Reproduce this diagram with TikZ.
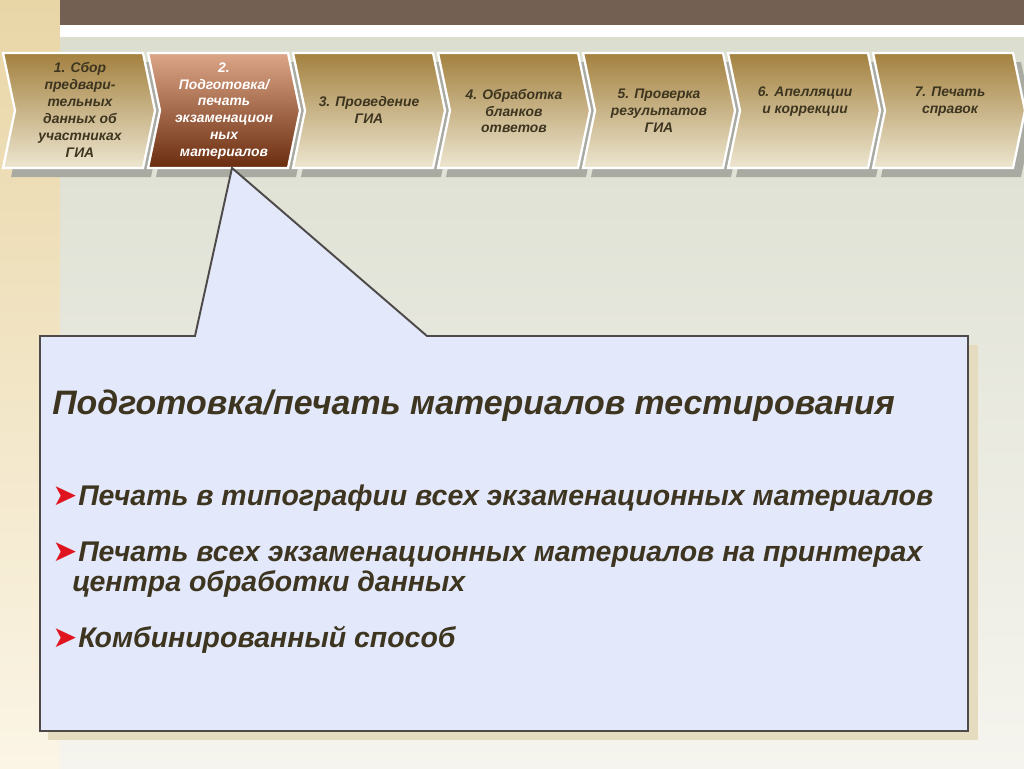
\documentclass[tikz,border=0pt]{standalone}
\usepackage{fontspec}
\setmainfont{Liberation Sans}
\newfontfamily\symfont{DejaVu Sans}
\usetikzlibrary{positioning}

\definecolor{barbrown}{HTML}{745F53}
\definecolor{stripe}{HTML}{E9D6A7}
\definecolor{stripelow}{HTML}{FBF5E6}
\definecolor{bgtop}{HTML}{DCDED0}
\definecolor{bglow}{HTML}{F5F4EE}
\definecolor{chevtop}{HTML}{A3813F}
\definecolor{chevmid}{HTML}{E4D9BA}
\definecolor{chevbot}{HTML}{EDE6D0}
\definecolor{acttop}{HTML}{DDA688}
\definecolor{actmid}{HTML}{A85E38}
\definecolor{actbot}{HTML}{6A2C0E}
\definecolor{chevshadow}{HTML}{A9AAA2}
\definecolor{calloutfill}{HTML}{E3E8FA}
\definecolor{calloutline}{HTML}{4E4A4A}
\definecolor{calloutshadow}{HTML}{E5DCC0}
\definecolor{darktext}{HTML}{3D3520}
\definecolor{bulred}{HTML}{E0141E}

\newcommand{\bul}{{\symfont\fontsize{17}{17}\selectfont\color{bulred}➤}\kern0.5pt}

\begin{document}
\begin{tikzpicture}[x=0.02cm, y=-0.02cm,
    chev/.style={draw=white, line width=1.3pt, top color=chevtop, middle color=chevmid, bottom color=chevbot},
    chevact/.style={draw=white, line width=1.3pt, top color=acttop, middle color=actmid, bottom color=actbot},
    chevtext/.style={align=center, text=darktext, font=\fontsize{7.9}{9.6}\selectfont\bfseries\itshape},
    bigtext/.style={anchor=base west, text=darktext, font=\fontsize{16.2}{19}\selectfont\bfseries\itshape, inner sep=0pt}]

    \useasboundingbox (0,0) rectangle (1024,768);

    % background
    \fill[bottom color=bglow, top color=bgtop] (60,37) rectangle (1024,768);
    \fill[top color=stripe, bottom color=stripelow] (0,0) rectangle (60,768);
    \fill[barbrown] (60,0) rectangle (1024,25);
    \fill[white] (60,25) rectangle (1024,37);

    % process chevrons
    \foreach \i in {1,...,7}{
        \pgfmathsetmacro{\L}{3+145*(\i-1)}
        \fill[chevshadow] (\L+8,62) -- ++(140,0) -- ++(12,57.5) -- ++(-12,57.5) -- ++(-140,0) -- ++(12,-57.5) -- cycle;
    }
    \foreach \i in {1,3,4,5,6,7}{
        \pgfmathsetmacro{\L}{3+145*(\i-1)}
        \path[chev] (\L,53) -- ++(140,0) -- ++(12,57.5) -- ++(-12,57.5) -- ++(-140,0) -- ++(12,-57.5) -- cycle;
    }
    \path[chevact] (148,53) -- ++(140,0) -- ++(12,57.5) -- ++(-12,57.5) -- ++(-140,0) -- ++(12,-57.5) -- cycle;

    \node[chevtext] (c1) at (80,110) {1. Сбор\\предвари-\\тельных\\данных об\\участниках\\ГИА};
    \node[chevtext, text=white] (c2) at (224,111) {2.\\Подготовка/\\печать\\экзаменацион\\ных\\материалов};
    \node[chevtext] (c3) at (369,110) {3. Проведение\\ГИА};
    \node[chevtext] (c4) at (514,111) {4. Обработка\\бланков\\ответов};
    \node[chevtext] (c5) at (659,111) {5. Проверка\\результатов\\ГИА};
    \node[chevtext] (c6) at (805,102) {6. Апелляции\\и коррекции};
    \node[chevtext] (c7) at (950,102) {7. Печать\\справок};

    % callout
    \coordinate (tip) at (232,168);
    \fill[calloutshadow] (48,345) rectangle (978,740);
    \draw[calloutline, fill=calloutfill, line width=1.1pt, line join=miter]
        (40,336) -- (195,336) -- (tip) -- (427,336) -- (968,336) -- (968,731) -- (40,731) -- cycle;

    \node[bigtext, font=\fontsize{19.3}{22}\selectfont\bfseries\itshape] (title) at (52,414) {Подготовка/печать материалов тестирования};
    \node[bigtext] (i1) at (52,505) {\bul Печать в типографии всех экзаменационных материалов};
    \node[bigtext] (i2) at (52,561) {\bul Печать всех экзаменационных материалов на принтерах};
    \node[bigtext] (i2b) at (72,591) {центра обработки данных};
    \node[bigtext] (i3) at (52,647) {\bul Комбинированный способ};
\end{tikzpicture}
\end{document}
